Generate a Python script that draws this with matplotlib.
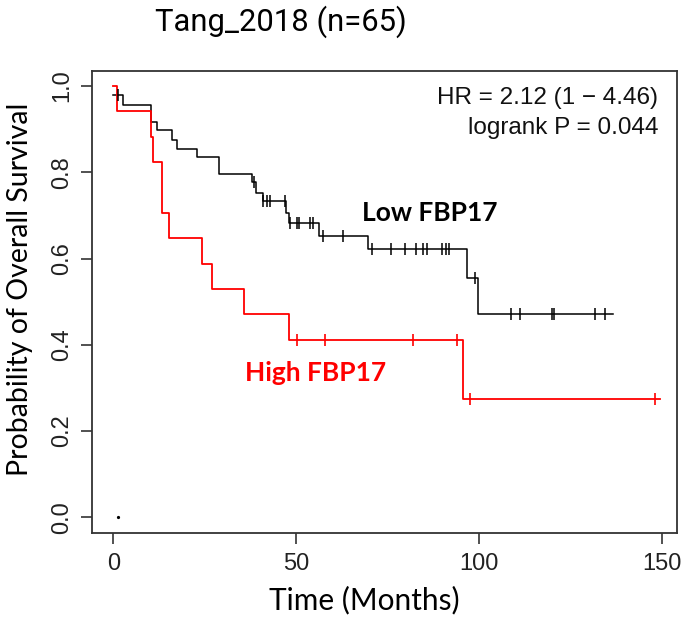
import matplotlib
matplotlib.use("Agg")
import matplotlib.pyplot as plt

# ---- data ----
low_times = [0, 2.7, 10.4, 11.9, 16.0, 17.3, 23.0, 29.0, 38.0, 39.0, 41.0, 47.2, 48.1, 56.4, 69.8, 96.8, 99.7]
low_surv  = [0.978, 0.957, 0.917, 0.897, 0.875, 0.855, 0.835, 0.795, 0.778, 0.751, 0.733, 0.705, 0.682, 0.652, 0.621, 0.555, 0.472]
low_end = 136.8
low_censor = [1.4, 38.5, 41.0, 42.1, 43.0, 47.0, 48.3, 50.2, 50.9, 53.8, 54.5, 57.3, 62.9,
              70.9, 75.9, 79.8, 82.8, 84.6, 85.9, 89.8, 91.0, 91.9, 98.9,
              108.7, 111.2, 119.9, 120.5, 131.7, 134.5]

high_times = [0, 0.9, 10.2, 10.8, 13.2, 15.2, 24.2, 27.1, 35.8, 48.1, 95.7]
high_surv  = [1.0, 0.941, 0.882, 0.824, 0.706, 0.647, 0.588, 0.529, 0.471, 0.412, 0.275]
high_end = 149.5
high_censor = [50.2, 58.0, 82.1, 93.9, 97.6, 148.2]

x_ticks = [0, 50, 100, 150]
y_ticks = [0.0, 0.2, 0.4, 0.6, 0.8, 1.0]
y_tick_labels = ["0.0", "0.2", "0.4", "0.6", "0.8", "1.0"]

title = "Tang_2018 (n=65)"
hr_text = "HR = 2.12 (1 \u2212 4.46)"
p_text = "logrank P = 0.044"


def step_value(times, surv, t):
    v = surv[0]
    for tt, ss in zip(times, surv):
        if tt <= t:
            v = ss
    return v


fig = plt.figure(figsize=(6.85, 6.21), dpi=100)
ax = fig.add_axes([0.1347, 0.1412, 0.8532, 0.745])

# curves
ax.step(low_times + [low_end], low_surv + [low_surv[-1]], where="post", color="black", lw=1.1)
ax.step(high_times + [high_end], high_surv + [high_surv[-1]], where="post", color="#ff0000", lw=1.3)

ax.plot(low_censor, [step_value(low_times, low_surv, t) for t in low_censor],
        ls="none", marker="|", ms=8, mew=1.1, color="black")
ax.plot(high_censor, [step_value(high_times, high_surv, t) for t in high_censor],
        ls="none", marker="|", ms=8, mew=1.2, color="#ff0000")

# small stray dot near origin
ax.plot([1.2], [0.0], ls="none", marker="o", ms=1.3, color="black")

ax.set_xlim(-5.74, 154.1)
ax.set_ylim(-0.037, 1.0355)
ax.set_xticks(x_ticks)
ax.set_yticks(y_ticks)
ax.set_yticklabels(y_tick_labels, rotation=90, va="center")

for lab in ax.get_xticklabels() + ax.get_yticklabels():
    lab.set_fontfamily("Liberation Sans")
    lab.set_fontsize(17)
    lab.set_color("#222222")
ax.tick_params(axis="both", direction="out", length=8, width=1.2, color="#333333", pad=6)

for sp in ax.spines.values():
    sp.set_linewidth(1.3)
    sp.set_color("#333333")

ax.set_xlabel("Time (Months)", family="Lato", fontsize=21.5)
ax.set_ylabel("Probability of Overall Survival", family="Lato", fontsize=20.5)
ax.xaxis.set_label_coords(0.466, -0.113)
ax.yaxis.set_label_coords(-0.102, 0.528)

ax.text(0.968, 0.94, hr_text, transform=ax.transAxes, ha="right", va="center",
        family="Liberation Sans", fontsize=17.5, color="#111111")
ax.text(0.968, 0.877, p_text, transform=ax.transAxes, ha="right", va="center",
        family="Liberation Sans", fontsize=17.5, color="#111111")

ax.text(68.0, 0.706, "Low FBP17", ha="left", va="center", family="Lato",
        fontweight="bold", fontsize=19, color="black")
ax.text(36.0, 0.335, "High FBP17", ha="left", va="center", family="Lato",
        fontweight="bold", fontsize=19, color="#ff0000")

ttl = fig.text(155 / 685, 1 - 22 / 621, title, ha="left", va="center",
               family="Roboto", fontsize=25, color="black")
# size the title so its width is close to the reference
fig.canvas.draw()
_w = ttl.get_window_extent().width
if _w > 0:
    ttl.set_fontsize(min(25, 25 * 252.0 / _w))

fig.savefig("out.png", dpi=100)
